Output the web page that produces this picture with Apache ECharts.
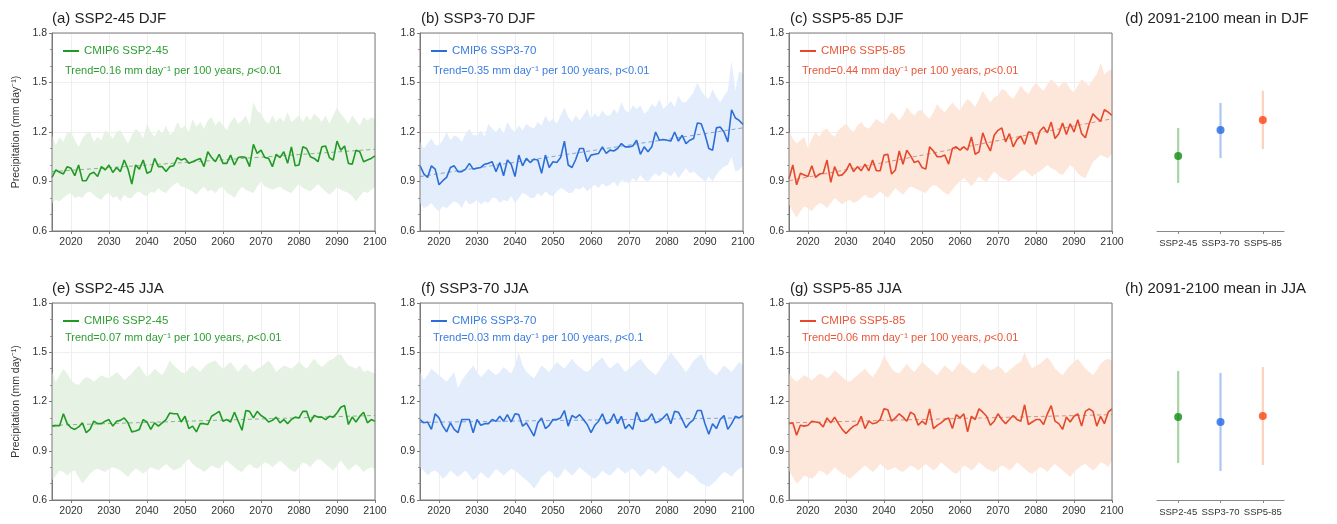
<!DOCTYPE html>
<html><head><meta charset="utf-8">
<script src="https://cdn.jsdelivr.net/npm/echarts@6/dist/echarts.min.js"></script>
<style>html,body{margin:0;padding:0;background:#fff}#c{width:1337px;height:524px}</style>
</head><body><div id="c"></div>
<script>
// ---------------- DATA ----------------
const startYear = 2015;
const xTickYears = [2020, 2030, 2040, 2050, 2060, 2070, 2080, 2090, 2100];
const scenarios = ['SSP2-45', 'SSP3-70', 'SSP5-85'];

// (a) SSP2-45 DJF
const djf245Mean = [0.925,0.97,0.956,0.946,0.99,0.98,0.935,1.0,0.905,0.905,
 0.946,0.956,0.93,0.99,0.97,1.0,0.955,0.985,0.96,1.03,
 0.975,0.885,1.0,0.975,1.03,0.95,0.96,1.04,0.99,0.99,
 0.96,0.99,0.995,1.045,1.03,1.04,1.01,1.02,1.03,1.04,
 0.99,1.08,1.045,1.02,1.065,1.01,1.01,1.06,1.0,1.045,
 1.05,1.045,0.99,1.125,1.07,1.09,1.045,1.04,0.99,1.065,
 1.045,1.08,1.01,1.11,0.995,1.0,1.11,1.1,1.05,1.04,
 1.02,1.11,1.115,1.045,1.03,1.145,1.09,1.115,1.01,1.005,
 1.09,1.08,1.02,1.03,1.04,1.055];
const djf245Hi = [1.18,1.12,1.17,1.14,1.2,1.2,1.15,1.11,1.16,1.19,
 1.2,1.14,1.17,1.15,1.21,1.19,1.16,1.2,1.21,1.17,
 1.13,1.18,1.22,1.2,1.16,1.25,1.2,1.17,1.22,1.19,
 1.24,1.18,1.2,1.26,1.22,1.24,1.2,1.28,1.23,1.26,
 1.22,1.27,1.29,1.24,1.27,1.24,1.21,1.26,1.29,1.25,
 1.27,1.3,1.24,1.38,1.33,1.31,1.27,1.25,1.3,1.26,
 1.29,1.26,1.32,1.26,1.28,1.3,1.26,1.3,1.27,1.31,
 1.29,1.26,1.3,1.25,1.3,1.35,1.31,1.28,1.25,1.3,
 1.27,1.24,1.29,1.27,1.29,1.28];
const djf245Lo = [0.77,0.79,0.78,0.8,0.82,0.83,0.8,0.81,0.8,0.83,
 0.84,0.82,0.8,0.79,0.82,0.83,0.8,0.81,0.78,0.82,
 0.8,0.8,0.83,0.84,0.82,0.81,0.84,0.83,0.86,0.84,
 0.83,0.86,0.88,0.895,0.87,0.865,0.85,0.84,0.82,0.85,
 0.87,0.84,0.85,0.83,0.86,0.865,0.83,0.82,0.8,0.84,
 0.87,0.85,0.84,0.83,0.87,0.9,0.87,0.86,0.85,0.86,
 0.87,0.85,0.84,0.83,0.86,0.885,0.86,0.85,0.84,0.86,
 0.885,0.86,0.84,0.82,0.84,0.865,0.85,0.84,0.83,0.81,
 0.78,0.81,0.84,0.83,0.85,0.865];
const djf245Trend = [0.96, 1.095];

// (b) SSP3-70 DJF
const djf370Mean = [0.997,0.946,0.925,0.995,0.975,0.88,0.905,0.925,0.985,0.995,
 0.96,0.96,0.975,1.01,0.975,0.98,0.985,1.005,1.01,1.02,
 0.96,1.015,0.935,1.03,1.005,0.93,1.06,0.995,1.04,1.015,
 1.035,1.03,0.95,1.06,0.985,1.02,1.015,1.045,1.145,1.0,
 0.985,1.035,1.1,1.1,1.02,1.06,1.065,1.07,1.11,1.07,
 1.09,1.085,1.1,1.13,1.11,1.11,1.115,1.15,1.065,1.11,
 1.08,1.11,1.2,1.15,1.155,1.15,1.145,1.2,1.145,1.18,
 1.13,1.15,1.16,1.255,1.25,1.185,1.1,1.09,1.225,1.23,
 1.2,1.14,1.335,1.285,1.27,1.245];
const djf370Hi = [1.14,1.1,1.13,1.16,1.12,1.12,1.15,1.2,1.15,1.18,
 1.17,1.14,1.19,1.22,1.18,1.18,1.21,1.17,1.25,1.22,
 1.2,1.23,1.19,1.26,1.22,1.2,1.24,1.21,1.25,1.23,
 1.22,1.26,1.24,1.3,1.26,1.28,1.25,1.3,1.35,1.29,
 1.26,1.3,1.27,1.3,1.34,1.28,1.31,1.29,1.33,1.3,
 1.3,1.34,1.31,1.38,1.33,1.32,1.36,1.34,1.36,1.31,
 1.33,1.37,1.35,1.4,1.34,1.36,1.39,1.35,1.42,1.38,
 1.38,1.41,1.44,1.5,1.45,1.42,1.4,1.46,1.41,1.38,
 1.42,1.45,1.63,1.45,1.57,1.55];
const djf370Lo = [0.77,0.74,0.75,0.77,0.74,0.72,0.75,0.74,0.76,0.78,
 0.77,0.74,0.79,0.76,0.77,0.79,0.76,0.78,0.77,0.8,
 0.8,0.77,0.79,0.78,0.81,0.77,0.8,0.83,0.82,0.8,
 0.8,0.83,0.81,0.84,0.82,0.81,0.84,0.86,0.85,0.83,
 0.83,0.86,0.85,0.87,0.84,0.86,0.88,0.86,0.89,0.87,
 0.88,0.9,0.87,0.91,0.9,0.89,0.92,0.9,0.94,0.91,
 0.9,0.93,0.95,0.93,0.96,0.95,0.93,0.96,0.92,0.95,
 0.98,0.95,0.96,0.94,0.92,0.9,0.93,0.9,0.94,0.97,
 0.99,1.0,1.05,0.96,0.97,1.0];
const djf370Trend = [0.93, 1.225];

// (c) SSP5-85 DJF
const djf585Mean = [0.915,1.0,0.88,0.95,0.94,0.93,0.995,0.925,0.945,0.95,
 1.03,0.895,0.99,0.935,0.94,0.965,1.01,0.96,0.99,0.965,
 1.005,0.965,1.03,0.965,0.965,1.06,1.065,0.945,0.97,1.085,
 1.005,1.09,1.055,1.015,1.025,0.985,0.975,1.11,1.085,1.05,
 1.05,1.06,1.005,1.1,1.11,1.09,1.11,1.09,1.17,1.065,
 1.08,1.195,1.13,1.085,1.18,1.21,1.225,1.14,1.19,1.11,
 1.155,1.175,1.125,1.2,1.195,1.125,1.205,1.23,1.195,1.26,
 1.16,1.19,1.255,1.185,1.25,1.2,1.275,1.19,1.165,1.25,
 1.31,1.285,1.265,1.335,1.32,1.3];
const djf585Hi = [1.2,1.16,1.13,1.15,1.17,1.1,1.16,1.2,1.17,1.21,
 1.22,1.19,1.17,1.21,1.23,1.25,1.22,1.2,1.24,1.26,
 1.23,1.22,1.25,1.28,1.26,1.25,1.29,1.32,1.3,1.27,
 1.3,1.35,1.32,1.3,1.33,1.33,1.3,1.28,1.32,1.37,
 1.34,1.32,1.35,1.38,1.35,1.33,1.37,1.4,1.38,1.35,
 1.4,1.45,1.41,1.38,1.41,1.42,1.46,1.45,1.42,1.4,
 1.44,1.48,1.45,1.43,1.47,1.5,1.47,1.45,1.49,1.52,
 1.5,1.47,1.5,1.5,1.46,1.44,1.48,1.52,1.5,1.48,
 1.52,1.55,1.62,1.55,1.57,1.58];
const djf585Lo = [0.76,0.72,0.68,0.72,0.75,0.74,0.72,0.75,0.77,0.76,
 0.74,0.77,0.8,0.78,0.76,0.78,0.79,0.77,0.78,0.8,
 0.82,0.8,0.8,0.82,0.84,0.82,0.8,0.83,0.86,0.84,
 0.82,0.85,0.87,0.86,0.85,0.84,0.83,0.86,0.88,0.87,
 0.85,0.83,0.82,0.85,0.88,0.9,0.92,0.9,0.87,0.9,
 0.93,0.91,0.9,0.93,0.96,0.94,0.92,0.91,0.9,0.92,
 0.94,0.96,0.97,0.95,0.93,0.95,0.96,0.98,1.0,0.98,
 0.97,0.95,0.94,0.97,1.0,0.98,0.95,0.93,0.92,0.97,
 1.02,1.04,1.06,1.05,1.04,1.07];
const djf585Trend = [0.905, 1.28];

// (e) SSP2-45 JJA
const jja245Mean = [1.05,1.053,1.053,1.125,1.065,1.04,1.03,1.045,1.07,1.01,
 1.03,1.08,1.065,1.065,1.08,1.09,1.05,1.08,1.085,1.1,
 1.07,1.015,1.02,1.03,1.09,1.075,1.03,1.07,1.05,1.07,
 1.09,1.13,1.125,1.125,1.075,1.11,1.035,1.05,1.015,1.065,
 1.065,1.06,1.11,1.125,1.14,1.08,1.09,1.075,1.135,1.08,
 1.025,1.145,1.14,1.1,1.14,1.115,1.1,1.075,1.085,1.105,
 1.07,1.09,1.065,1.09,1.105,1.1,1.14,1.14,1.075,1.115,
 1.105,1.105,1.09,1.11,1.105,1.13,1.165,1.175,1.06,1.105,
 1.075,1.11,1.135,1.07,1.09,1.08];
const jja245Hi = [1.38,1.32,1.36,1.4,1.37,1.33,1.31,1.3,1.33,1.35,
 1.34,1.32,1.34,1.36,1.35,1.34,1.36,1.38,1.36,1.33,
 1.35,1.37,1.4,1.42,1.38,1.35,1.37,1.4,1.38,1.36,
 1.4,1.45,1.42,1.4,1.38,1.37,1.4,1.42,1.4,1.38,
 1.41,1.43,1.44,1.45,1.42,1.4,1.42,1.44,1.41,1.38,
 1.41,1.43,1.4,1.38,1.4,1.41,1.43,1.45,1.42,1.38,
 1.4,1.42,1.41,1.4,1.42,1.44,1.42,1.4,1.43,1.46,
 1.43,1.41,1.43,1.45,1.46,1.48,1.49,1.45,1.42,1.41,
 1.4,1.42,1.38,1.39,1.38,1.37];
const jja245Lo = [0.72,0.75,0.78,0.77,0.75,0.77,0.78,0.74,0.7,0.73,
 0.76,0.78,0.79,0.78,0.77,0.79,0.8,0.79,0.78,0.76,
 0.74,0.77,0.79,0.78,0.76,0.78,0.8,0.79,0.78,0.8,
 0.82,0.8,0.78,0.79,0.8,0.83,0.85,0.82,0.8,0.79,
 0.77,0.79,0.81,0.8,0.79,0.82,0.84,0.82,0.8,0.78,
 0.77,0.8,0.82,0.8,0.79,0.81,0.83,0.82,0.8,0.82,
 0.84,0.82,0.8,0.78,0.77,0.8,0.83,0.82,0.8,0.83,
 0.85,0.84,0.82,0.8,0.78,0.81,0.84,0.81,0.78,0.8,
 0.82,0.8,0.77,0.79,0.8,0.79];
const jja245Trend = [1.055, 1.115];

// (f) SSP3-70 JJA
const jja370Mean = [1.09,1.07,1.075,1.03,1.125,1.1,1.05,1.015,1.07,1.03,
 1.01,1.09,1.09,1.09,1.01,1.09,1.055,1.065,1.065,1.09,
 1.08,1.11,1.08,1.12,1.075,1.125,1.12,1.05,1.07,1.03,
 0.99,1.07,1.1,1.035,1.055,1.09,1.09,1.1,1.145,1.05,
 1.115,1.1,1.12,1.09,1.06,1.01,1.055,1.08,1.125,1.065,
 1.075,1.125,1.065,1.11,1.035,1.06,1.03,1.135,1.08,1.08,
 1.09,1.125,1.07,1.08,1.1,1.125,1.065,1.14,1.135,1.09,
 1.04,1.07,1.09,1.145,1.145,1.065,1.0,1.065,1.035,1.09,
 1.115,1.03,1.065,1.11,1.1,1.115];
const jja370Hi = [1.38,1.33,1.36,1.4,1.38,1.36,1.34,1.32,1.35,1.38,
 1.28,1.33,1.36,1.39,1.42,1.38,1.35,1.37,1.4,1.38,
 1.36,1.38,1.41,1.39,1.37,1.42,1.5,1.42,1.38,1.36,
 1.34,1.38,1.42,1.4,1.38,1.41,1.44,1.42,1.4,1.43,
 1.46,1.43,1.41,1.39,1.38,1.4,1.43,1.45,1.47,1.43,
 1.4,1.42,1.44,1.41,1.38,1.4,1.42,1.44,1.46,1.43,
 1.4,1.38,1.36,1.39,1.43,1.46,1.5,1.47,1.44,1.41,
 1.38,1.41,1.45,1.47,1.49,1.44,1.4,1.38,1.36,1.39,
 1.42,1.4,1.38,1.41,1.44,1.42];
const jja370Lo = [0.8,0.78,0.75,0.77,0.78,0.76,0.73,0.75,0.78,0.76,
 0.74,0.76,0.78,0.75,0.72,0.74,0.77,0.75,0.73,0.76,
 0.79,0.77,0.75,0.77,0.79,0.78,0.76,0.74,0.72,0.7,
 0.67,0.7,0.74,0.76,0.78,0.76,0.73,0.75,0.79,0.77,
 0.75,0.77,0.8,0.78,0.76,0.74,0.73,0.75,0.78,0.76,
 0.75,0.77,0.8,0.78,0.76,0.78,0.79,0.77,0.74,0.76,
 0.79,0.78,0.76,0.78,0.81,0.79,0.77,0.75,0.73,0.75,
 0.78,0.76,0.75,0.72,0.7,0.69,0.68,0.7,0.72,0.75,
 0.77,0.76,0.74,0.77,0.79,0.8];
const jja370Trend = [1.073, 1.1];

// (g) SSP5-85 JJA
const jja585Mean = [1.065,1.07,0.995,1.055,1.05,1.055,1.08,1.075,1.07,1.045,
 1.1,1.07,1.105,1.065,1.03,1.005,1.03,1.05,1.06,1.11,
 1.035,1.08,1.065,1.07,1.09,1.155,1.15,1.08,1.1,1.125,
 1.105,1.08,1.135,1.12,1.055,1.08,1.06,1.155,1.035,1.055,
 1.07,1.09,1.1,1.035,1.12,1.1,1.125,1.015,1.11,1.09,
 1.155,1.135,1.11,1.055,1.08,1.125,1.09,1.065,1.09,1.115,
 1.09,1.08,1.18,1.06,1.075,1.09,1.09,1.06,1.125,1.175,
 1.08,1.065,1.03,1.105,1.075,1.11,1.125,1.05,1.14,1.155,
 1.14,1.05,1.11,1.065,1.135,1.155];
const jja585Hi = [1.37,1.34,1.32,1.34,1.36,1.35,1.33,1.35,1.37,1.36,
 1.34,1.36,1.39,1.37,1.35,1.33,1.32,1.34,1.36,1.38,
 1.4,1.37,1.35,1.38,1.42,1.48,1.44,1.4,1.38,1.37,
 1.4,1.43,1.4,1.38,1.41,1.44,1.42,1.4,1.38,1.36,
 1.39,1.42,1.4,1.38,1.41,1.44,1.42,1.4,1.38,1.37,
 1.4,1.43,1.41,1.39,1.4,1.42,1.4,1.37,1.39,1.41,
 1.43,1.44,1.5,1.44,1.4,1.42,1.43,1.45,1.47,1.44,
 1.4,1.38,1.36,1.39,1.42,1.44,1.46,1.43,1.4,1.38,
 1.36,1.39,1.43,1.45,1.46,1.45];
const jja585Lo = [0.78,0.74,0.7,0.72,0.75,0.74,0.73,0.75,0.78,0.77,
 0.75,0.77,0.8,0.78,0.76,0.75,0.73,0.75,0.77,0.79,
 0.81,0.79,0.77,0.79,0.82,0.8,0.78,0.79,0.8,0.78,
 0.77,0.79,0.81,0.8,0.78,0.8,0.82,0.8,0.78,0.8,
 0.83,0.81,0.79,0.77,0.76,0.78,0.81,0.8,0.78,0.8,
 0.83,0.81,0.79,0.78,0.77,0.79,0.81,0.8,0.78,0.8,
 0.83,0.81,0.79,0.77,0.76,0.78,0.8,0.79,0.77,0.8,
 0.82,0.8,0.78,0.76,0.74,0.77,0.79,0.81,0.82,0.8,
 0.78,0.8,0.83,0.82,0.8,0.84];
const jja585Trend = [1.07, 1.12];

// (d),(h) 2091-2100 means with ranges
const djfEndMean = [1.055, 1.212, 1.273];
const djfEndLo   = [0.891, 1.042, 1.097];
const djfEndHi   = [1.224, 1.376, 1.45];
const jjaEndMean = [1.106, 1.075, 1.112];
const jjaEndLo   = [0.825, 0.777, 0.813];
const jjaEndHi   = [1.386, 1.374, 1.41];

const panelTitles = ['(a) SSP2-45 DJF','(b) SSP3-70 DJF','(c) SSP5-85 DJF','(d) 2091-2100 mean in DJF',
                     '(e) SSP2-45 JJA','(f) SSP3-70 JJA','(g) SSP5-85 JJA','(h) 2091-2100 mean in JJA'];
const legendNames = ['CMIP6 SSP2-45','CMIP6 SSP3-70','CMIP6 SSP5-85'];
const trendValues = ['0.16','0.35','0.44','0.07','0.03','0.06'];
const pValues = ['0.01','0.01','0.01','0.01','0.1','0.01'];
const pItalic = [true,false,true,true,true,true];

// ---------------- STYLE / LAYOUT ----------------
const lineColors  = ['#1f9a24','#2b6fd6','#e5482b'];
const textColors  = ['#2e9e33','#3b7de0','#e9583a'];
const bandColors  = ['#e6f2e3','#e4edfc','#fde7da'];
const trendColors = ['#8fb08f','#86a3d3','#d39284'];
const dotColors   = ['#108c10','#2268e6','#fc4212'];
const barColors   = ['#a8d5a4','#adc6f2','#f9d3be'];

const colLeft = [52, 420, 789];
const colWidth = 323;
const rowTop = [33, 303];
const rowHeight = [198, 197];
const dotLeft = 1157, dotWidth = 127;
const titleTop = [11, 281];
const titleLeft = [52, 421, 790, 1125];

const timePanels = [
  {mean: djf245Mean, lo: djf245Lo, hi: djf245Hi, trend: djf245Trend},
  {mean: djf370Mean, lo: djf370Lo, hi: djf370Hi, trend: djf370Trend},
  {mean: djf585Mean, lo: djf585Lo, hi: djf585Hi, trend: djf585Trend},
  {mean: jja245Mean, lo: jja245Lo, hi: jja245Hi, trend: jja245Trend},
  {mean: jja370Mean, lo: jja370Lo, hi: jja370Hi, trend: jja370Trend},
  {mean: jja585Mean, lo: jja585Lo, hi: jja585Hi, trend: jja585Trend}
];
const endPanels = [
  {mean: djfEndMean, lo: djfEndLo, hi: djfEndHi},
  {mean: jjaEndMean, lo: jjaEndLo, hi: jjaEndHi}
];

const FONT = '"Liberation Sans", Arial, sans-serif';
const grids = [], xAxes = [], yAxes = [], series = [], titles = [], legends = [];

function toPairs(arr) { return arr.map((v, i) => [startYear + i, v]); }

function bandSeries(gi, lo, hi, color) {
  return {
    type: 'custom', xAxisIndex: gi, yAxisIndex: gi, silent: true, z: 1,
    data: lo.map((v, i) => [startYear + i, v, hi[i]]),
    encode: {x: 0, y: [1, 2]},
    renderItem: function (params, api) {
      if (params.dataIndex !== 0) return null;
      const pts = [];
      for (let i = 0; i < hi.length; i++) pts.push(api.coord([startYear + i, hi[i]]));
      for (let i = lo.length - 1; i >= 0; i--) pts.push(api.coord([startYear + i, lo[i]]));
      return {type: 'polygon', shape: {points: pts}, style: {fill: color, stroke: null}};
    }
  };
}

for (let r = 0; r < 2; r++) {
  for (let c = 0; c < 3; c++) {
    const p = r * 3 + c;
    const gi = r * 4 + c;
    const d = timePanels[p];
    const endYear = startYear + d.mean.length - 1;
    grids.push({left: colLeft[c], top: rowTop[r], width: colWidth, height: rowHeight[r], z: 10,
      show: true, borderColor: '#7a7a7a', borderWidth: 1, backgroundColor: 'transparent'});
    xAxes.push({type: 'value', gridIndex: gi, min: startYear, max: endYear,
      axisLine: {show: true, lineStyle: {color: '#7a7a7a'}},
      axisTick: {show: true, length: 3, customValues: xTickYears, lineStyle: {color: '#7a7a7a'}},
      axisLabel: {customValues: xTickYears, fontSize: 10.5, color: '#333', margin: 6, fontFamily: FONT,
        formatter: v => String(v)},
      splitLine: {show: true, lineStyle: {color: '#efefef', width: 1}}});
    yAxes.push({type: 'value', gridIndex: gi, min: 0.6, max: 1.8, interval: 0.3,
      name: c === 0 ? 'Precipitation (mm day\u207B\u00B9)' : '',
      nameLocation: 'middle', nameGap: 30, nameRotate: 90,
      nameTextStyle: {fontSize: 10.5, color: '#333', fontFamily: FONT},
      axisLine: {show: true, lineStyle: {color: '#7a7a7a'}},
      axisTick: {show: true, length: 3, lineStyle: {color: '#7a7a7a'}},
      minorTick: {show: true, splitNumber: 3, length: 2, lineStyle: {color: '#9a9a9a'}},
      axisLabel: {fontSize: 10.5, color: '#333', margin: 5, fontFamily: FONT,
        formatter: v => v.toFixed(1)},
      splitLine: {show: true, lineStyle: {color: '#efefef', width: 1}}});
    series.push(bandSeries(gi, d.lo, d.hi, bandColors[c]));
    series.push({type: 'line', xAxisIndex: gi, yAxisIndex: gi, symbol: 'none', silent: true,
      lineStyle: {color: trendColors[c], width: 1, type: [4, 3]},
      data: [[startYear, d.trend[0]], [endYear, d.trend[1]]], z: 2});
    series.push({type: 'line', name: legendNames[c], xAxisIndex: gi, yAxisIndex: gi, symbol: 'none',
      lineStyle: {color: lineColors[c], width: 1.6}, itemStyle: {color: lineColors[c]},
      data: toPairs(d.mean), z: 3});
    titles.push({text: panelTitles[gi], left: titleLeft[c], top: titleTop[r], padding: 0,
      textStyle: {fontSize: 15, fontWeight: 'normal', color: '#222', fontFamily: FONT}});
    const pTxt = pItalic[p] ? '{it|p}' : 'p';
    titles.push({text: 'Trend=' + trendValues[p] + ' mm day\u207B\u00B9 per 100 years, ' + pTxt + '<' + pValues[p],
      left: colLeft[c] + 13, top: r === 0 ? 65 : 332, padding: 0,
      textStyle: {fontSize: 11, fontWeight: 'normal', color: textColors[c], fontFamily: FONT,
        rich: {it: {fontStyle: 'italic', fontSize: 11, color: textColors[c], fontFamily: FONT}}}});
    legends.push({left: colLeft[c] + 11, top: r === 0 ? 45 : 315, padding: 0, data: [legendNames[c]],
      icon: 'rect', itemWidth: 16, itemHeight: 2, itemGap: 5, selectedMode: false,
      textStyle: {fontSize: 11.5, color: textColors[c], fontFamily: FONT}});
  }
  // dot panel
  const gi = r * 4 + 3;
  const e = endPanels[r];
  grids.push({left: dotLeft, top: rowTop[r], width: dotWidth, height: rowHeight[r], show: false});
  xAxes.push({type: 'category', gridIndex: gi, data: scenarios, boundaryGap: true,
    axisLine: {show: true, lineStyle: {color: '#8a8a8a'}},
    axisTick: {show: true, alignWithLabel: true, interval: 0, length: 3, lineStyle: {color: '#8a8a8a'}},
    axisLabel: {interval: 0, fontSize: 9.5, color: '#333', margin: 7, fontFamily: FONT},
    splitLine: {show: false}});
  yAxes.push({type: 'value', gridIndex: gi, min: 0.6, max: 1.8, show: false, splitLine: {show: false}});
  for (let k = 0; k < 3; k++) {
    series.push({type: 'line', xAxisIndex: gi, yAxisIndex: gi, symbol: 'none', silent: true,
      lineStyle: {color: barColors[k], width: 2.2},
      data: [[scenarios[k], e.lo[k]], [scenarios[k], e.hi[k]]], z: 2});
    series.push({type: 'scatter', xAxisIndex: gi, yAxisIndex: gi, symbol: 'circle', symbolSize: 8,
      itemStyle: {color: dotColors[k]}, data: [[scenarios[k], e.mean[k]]], z: 3});
  }
  titles.push({text: panelTitles[gi], left: titleLeft[3], top: titleTop[r], padding: 0,
    textStyle: {fontSize: 15, fontWeight: 'normal', color: '#222', fontFamily: FONT}});
}

const chart = echarts.init(document.getElementById('c'), null, {renderer: 'canvas'});
chart.setOption({
  animation: false,
  backgroundColor: '#fff',
  textStyle: {fontFamily: FONT},
  title: titles,
  legend: legends,
  grid: grids,
  xAxis: xAxes,
  yAxis: yAxes,
  series: series
});
</script></body></html>
